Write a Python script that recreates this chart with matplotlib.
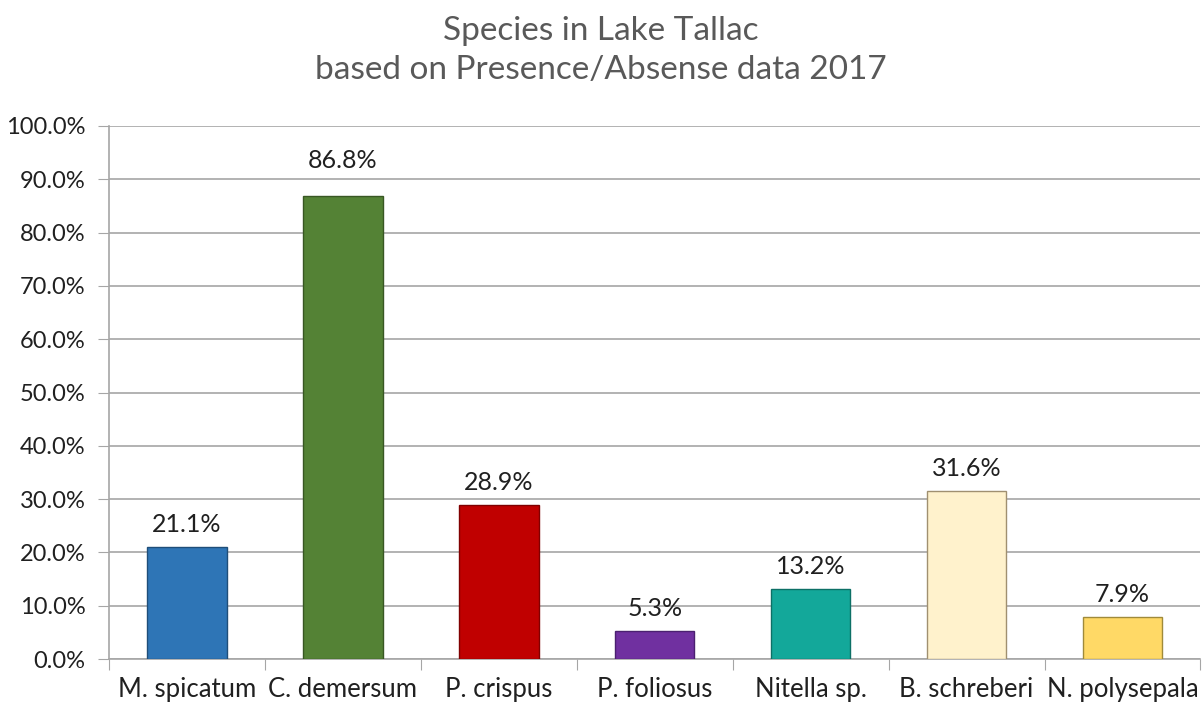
import numpy as np
import matplotlib.pyplot as plt
from matplotlib.ticker import PercentFormatter

plt.rcParams['font.family'] = ['Lato', 'DejaVu Sans']

# 数据
species = ['M. spicatum', 'C. demersum', 'P. crispus', 'P. foliosus',
           'Nitella sp.', 'B. schreberi', 'N. polysepala']
values = [21.1, 86.8, 28.9, 5.3, 13.2, 31.6, 7.9]
colors = ['#2E75B6', '#548235', '#C00000', '#7030A0', '#13A89A', '#FFF2CC', '#FFD966']
edges = ['#1F4E79', '#385723', '#800000', '#4B2070', '#0D7066', '#A09070', '#A08A3A']

fig = plt.figure(figsize=(12.02, 7.09), dpi=100)
ax = fig.add_axes([0.0907, 0.0705, 0.908, 0.7518])

x = np.arange(len(species))
bars = ax.bar(x, values, width=0.51, color=colors, edgecolor=edges, linewidth=1, zorder=3)

for xi, v in zip(x, values):
    off = 4.5 if v > 80 else 2.0  # 最高的柱子标签稍高
    ax.text(xi, v + off, f'{v:.1f}%', ha='center', va='bottom', fontsize=18, color='#202020')

ax.set_xlim(-0.5, len(species) - 0.5)
ax.set_ylim(0, 100)
ax.set_yticks(np.arange(0, 101, 10))
ax.yaxis.set_major_formatter(PercentFormatter(decimals=1))
ax.set_xticks(np.arange(-0.5, len(species), 1), minor=False)
ax.set_xticklabels([])
ax.set_xticks(x, minor=True)
ax.set_xticklabels(species, minor=True)
ax.tick_params(axis='x', which='minor', length=0, labelsize=18.5, pad=13, colors='#202020')
ax.tick_params(axis='x', which='major', length=8, color='#A6A6A6', direction='out')
ax.tick_params(axis='y', length=8, color='#A6A6A6', labelsize=17, labelcolor='#202020', pad=9)

ax.grid(axis='y', color='#A6A6A6', linewidth=1.2, zorder=0)
for s in ['top', 'right']:
    ax.spines[s].set_visible(False)
ax.spines['left'].set_color('#A6A6A6')
ax.spines['bottom'].set_color('#A6A6A6')
ax.spines['left'].set_linewidth(1.2)
ax.spines['bottom'].set_linewidth(1.2)

fig.text(0.5, 0.978, 'Species in Lake Tallac\nbased on Presence/Absense data 2017',
         ha='center', va='top', fontsize=24, color='#595959', linespacing=1.4)

fig.savefig('out.png', dpi=100)
